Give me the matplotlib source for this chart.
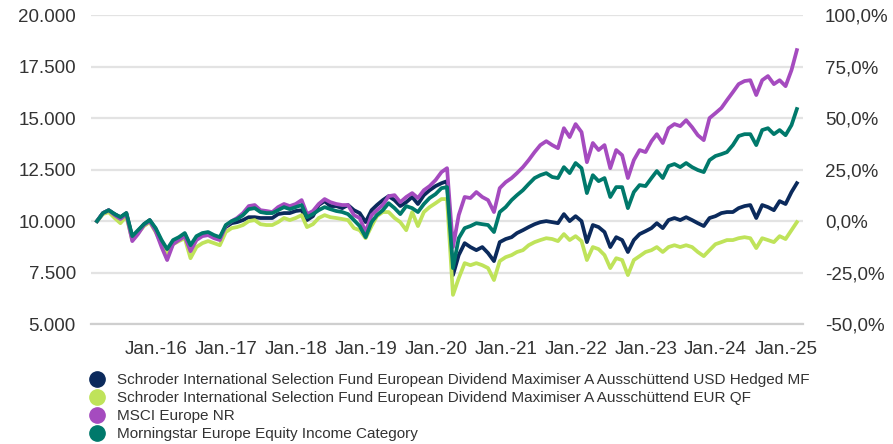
import pandas as pd
import matplotlib.pyplot as plt
from matplotlib.lines import Line2D
from matplotlib.ticker import FuncFormatter

plt.rcParams['font.family'] = ['Liberation Sans', 'DejaVu Sans']

# monthly values, growth of 10.000 (end of Feb 2015 .. end of Feb 2025)
dates = pd.date_range("2015-02-28", "2025-02-28", freq="ME")

usd_hedged = [
    10000, 10390, 10530, 10340, 10190, 10390, 9220, 9510, 9850, 10050,
    9610, 8980, 8540, 9030, 9170, 9370, 8740, 9170, 9370, 9420,
    9270, 9170, 9710, 9900, 9950, 10050, 10190, 10190, 10150, 10150,
    10150, 10340, 10390, 10390, 10490, 10530, 10050, 10240, 10780, 10970,
    10730, 10730, 10630, 10780, 10530, 10390, 9950, 10530, 10780, 11020,
    11210, 11020, 10730, 10920, 11170, 10830, 11260, 11500, 11700, 11840,
    11940, 7380, 8350, 8930, 8740, 8590, 8740, 8450, 8060, 8980,
    9130, 9220, 9420, 9560, 9710, 9850, 9950, 10000, 9950, 9900,
    10340, 10000, 10240, 10000, 8980, 9810, 9710, 9470, 8740, 9220,
    9080, 8500, 9080, 9370, 9510, 9660, 9900, 9660, 10050, 10150,
    10050, 10190, 10050, 9900, 9760, 10150, 10240, 10390, 10440, 10440,
    10630, 10730, 10780, 10150, 10780, 10680, 10530, 10970, 10830, 11410,
    11840,
]

eur_qf = [
    10000, 10340, 10440, 10150, 9900, 10240, 9080, 9420, 9760, 9950,
    9470, 8880, 8400, 8880, 9030, 9170, 8200, 8740, 8930, 9030,
    8930, 8830, 9470, 9660, 9710, 9810, 10000, 10050, 9850, 9810,
    9810, 9950, 10150, 10050, 10150, 10290, 9710, 9850, 10150, 10290,
    10190, 10150, 10100, 10050, 9660, 9560, 9170, 9760, 10240, 10440,
    10440, 10150, 9950, 9560, 10440, 9760, 10440, 10680, 10870, 11070,
    11070, 6420, 7230, 7960, 7860, 7960, 7860, 7720, 7140, 8060,
    8250, 8350, 8500, 8590, 8830, 8980, 9080, 9170, 9130, 9030,
    9370, 9080, 9270, 9030, 8110, 8740, 8640, 8350, 7720, 8200,
    8110, 7380, 8110, 8300, 8500, 8590, 8740, 8500, 8740, 8830,
    8740, 8830, 8740, 8500, 8300, 8590, 8880, 8980, 9080, 9080,
    9170, 9220, 9170, 8690, 9170, 9080, 8980, 9270, 9130, 9560,
    9950,
]

msci_europe = [
    10000, 10390, 10530, 10290, 10100, 10340, 9030, 9370, 9810, 10000,
    9510, 8740, 8110, 8880, 9080, 9270, 8540, 9080, 9270, 9320,
    9170, 9080, 9760, 10000, 10150, 10390, 10730, 10780, 10530, 10490,
    10440, 10680, 10830, 10730, 10830, 11020, 10340, 10490, 10830, 11070,
    10920, 10830, 10780, 10780, 10290, 10150, 9470, 10290, 10530, 10780,
    11210, 11260, 10920, 11170, 11360, 11120, 11500, 11700, 11990, 12380,
    12570, 8740, 10290, 11170, 11120, 11410, 11170, 11020, 10440, 11600,
    11890, 12090, 12330, 12620, 12960, 13350, 13690, 13880, 13690, 13540,
    14510, 14080, 14710, 14320, 12860, 13790, 13450, 13690, 12570, 13450,
    13200, 12090, 12960, 13450, 13350, 13880, 14220, 13790, 14510, 14710,
    14610, 14900, 14560, 14170, 13930, 15000, 15240, 15490, 15870, 16260,
    16650, 16800, 16840, 16120, 16840, 17040, 16650, 16840, 16550, 17330,
    18300,
]

category = [
    10000, 10390, 10530, 10340, 10190, 10390, 9270, 9560, 9850, 10050,
    9660, 9080, 8640, 9080, 9220, 9420, 8830, 9270, 9420, 9470,
    9320, 9220, 9810, 10000, 10100, 10290, 10580, 10630, 10440, 10390,
    10390, 10530, 10680, 10580, 10680, 10780, 10190, 10340, 10530, 10680,
    10580, 10490, 10440, 10340, 10050, 9760, 9220, 9950, 10290, 10530,
    10870, 10630, 10340, 10730, 10630, 10440, 10830, 11120, 11310, 11600,
    11650, 7720, 9170, 9660, 9760, 9900, 9850, 9810, 9470, 10440,
    10680, 11020, 11260, 11500, 11800, 12090, 12230, 12330, 12140, 12090,
    12620, 12330, 12820, 12570, 11360, 12230, 11940, 12090, 11170, 11650,
    11650, 10630, 11410, 11750, 11700, 12090, 12430, 12090, 12670, 12770,
    12620, 12820, 12620, 12480, 12380, 12960, 13160, 13250, 13350, 13690,
    14130, 14220, 14220, 13690, 14420, 14510, 14220, 14420, 14170, 14660,
    15440,
]

names = [
    "Schroder International Selection Fund European Dividend Maximiser A Ausschüttend USD Hedged MF",
    "Schroder International Selection Fund European Dividend Maximiser A Ausschüttend EUR QF",
    "MSCI Europe NR",
    "Morningstar Europe Equity Income Category",
]
colors = ["#0b2a5c", "#bfe35a", "#a54bbf", "#00796b"]
series = [usd_hedged, eur_qf, msci_europe, category]

fig = plt.figure(figsize=(8.93, 4.44), dpi=100)
ax = fig.add_axes([0.102, 0.270, 0.797, 0.696])

# draw lime, purple, navy, teal (teal ends up on top)
for i in [1, 2, 0, 3]:
    ax.plot(dates, series[i], color=colors[i], lw=2.7, solid_joinstyle="round", zorder=3 + i)

ax.set_ylim(5000, 20000)
ax.set_yticks([5000, 7500, 10000, 12500, 15000, 17500, 20000])
ax.yaxis.set_major_formatter(FuncFormatter(lambda v, p: f"{v:,.0f}".replace(",", ".")))
ax.set_xlim(pd.Timestamp("2015-01-28"), pd.Timestamp("2025-03-31"))

years = list(range(2016, 2026))
ax.set_xticks([pd.Timestamp(f"{y}-01-01") for y in years])
ax.set_xticklabels([f"Jan.-{y % 100:02d}" for y in years])

ax.grid(axis="y", color="#e3e3e3", lw=1.6)
ax.set_axisbelow(True)
for s in ["top", "right", "left"]:
    ax.spines[s].set_visible(False)
ax.spines["bottom"].set_color("#cfcfcf")
ax.spines["bottom"].set_linewidth(1.6)
ax.tick_params(axis="both", length=0, labelsize=13.5, colors="#333333")
ax.tick_params(axis="y", pad=11)
ax.tick_params(axis="x", pad=12)

ax2 = ax.twinx()
ax2.set_ylim(-50, 100)
ax2.set_yticks([-50, -25, 0, 25, 50, 75, 100])
ax2.yaxis.set_major_formatter(FuncFormatter(lambda v, p: f"{v:.1f}%".replace(".", ",")))
for s in ax2.spines.values():
    s.set_visible(False)
ax2.tick_params(axis="y", length=0, labelsize=13.5, colors="#333333", pad=16)

handles = [Line2D([], [], marker="o", ls="none", color=c, markersize=11) for c in colors]
fig.legend(handles, names, loc="upper left", bbox_to_anchor=(0.090, 0.177),
           frameon=False, fontsize=11, labelspacing=0.26, handletextpad=0.7,
           borderpad=0, handlelength=1.2, labelcolor="#333333")

fig.savefig("out.png", dpi=100)
